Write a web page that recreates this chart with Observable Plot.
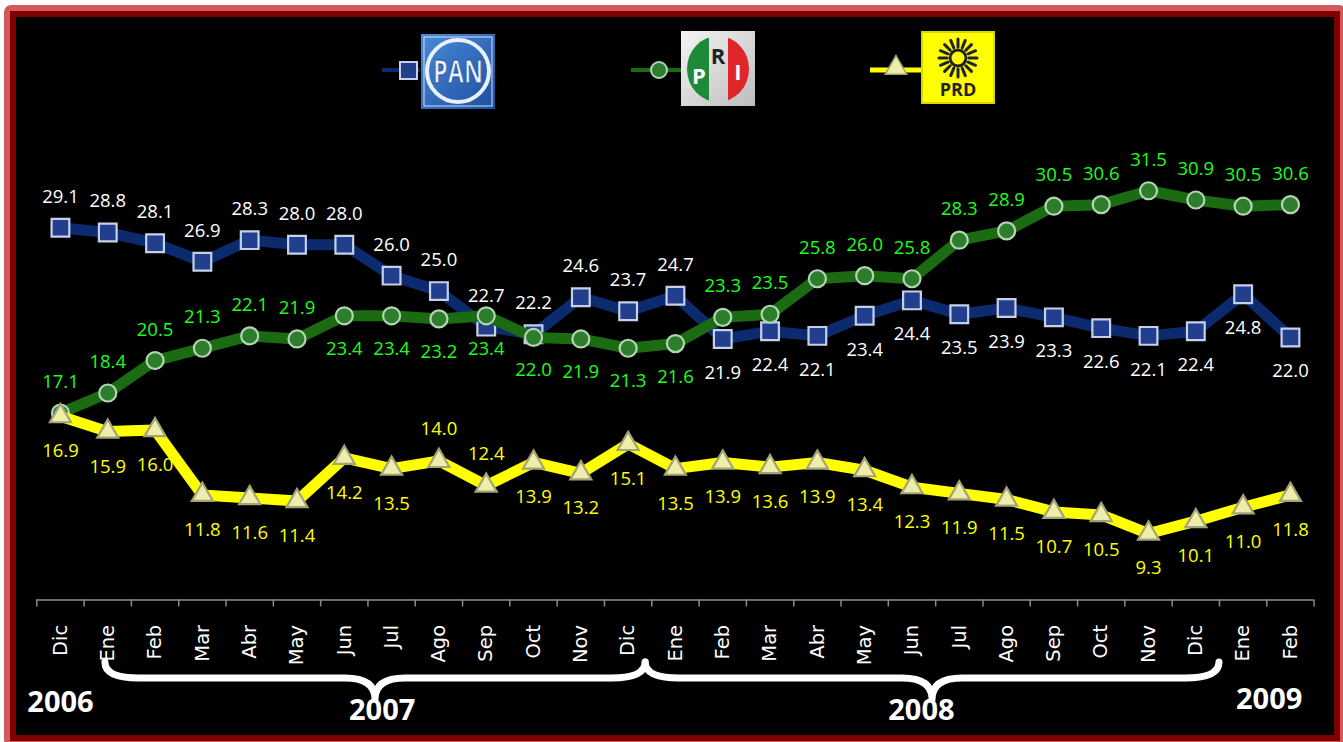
<!DOCTYPE html>
<html><head><meta charset="utf-8">
<script src="https://cdn.jsdelivr.net/npm/d3@7"></script>
<script src="https://cdn.jsdelivr.net/npm/@observablehq/plot@0.6"></script>
<style>
html,body{margin:0;padding:0;background:#fff;width:1343px;height:742px;overflow:hidden;}
#frame{position:absolute;left:4px;top:5px;width:1342px;height:742px;box-sizing:border-box;border:6px solid #d35a5a;border-radius:7px;}
#inner{position:absolute;left:0;top:0;right:0;bottom:0;border:6px solid #800000;background:#000;}
#legend{position:absolute;left:0;top:0;}
#chart{position:absolute;left:0;top:0;}
</style></head>
<body>
<div id="frame"><div id="inner"></div></div>
<svg id="legend" width="1343" height="130"></svg>
<div id="chart"></div>
<script>
// ---- data ----
const months = ["Dic","Ene","Feb","Mar","Abr","May","Jun","Jul","Ago","Sep","Oct","Nov","Dic",
                "Ene","Feb","Mar","Abr","May","Jun","Jul","Ago","Sep","Oct","Nov","Dic","Ene","Feb"];
const pan = [29.1,28.8,28.1,26.9,28.3,28.0,28.0,26.0,25.0,22.7,22.2,24.6,23.7,24.7,
             21.9,22.4,22.1,23.4,24.4,23.5,23.9,23.3,22.6,22.1,22.4,24.8,22.0];
const pri = [17.1,18.4,20.5,21.3,22.1,21.9,23.4,23.4,23.2,23.4,22.0,21.9,21.3,21.6,
             23.3,23.5,25.8,26.0,25.8,28.3,28.9,30.5,30.6,31.5,30.9,30.5,30.6];
const prd = [16.9,15.9,16.0,11.8,11.6,11.4,14.2,13.5,14.0,12.4,13.9,13.2,15.1,13.5,
             13.9,13.6,13.9,13.4,12.3,11.9,11.5,10.7,10.5,9.3,10.1,11.0,11.8];
const yearLabels = ["2006","2007","2008","2009"];
const yearAt = [0, 6.8, 18.2, 25.55];          // month-index where each year label sits
// label side per point: a = above, b = below
const panSide = "aaaaaaaaaaaaaabbbbbbbbbbbbb";
const priSide = "aaaaaabbbbbbbbaaaaaaaaaaaaa";
const prdSide = "bbbbbbbbaabbbbbbbbbbbbbbbbb";

// ---- layout ----
const W = 1343, H = 742;
const idx = d3.range(months.length);
const bounds = d3.range(months.length + 1).map(k => k - 0.5);
const series = [
  {name:"PAN", vals:pan, side:panSide, line:"#0c2a6e", lab:"#ffffff", symbol:"square", r:10, fill:"#223f8e", stroke:"#c6d0ea", up:-31, down:34},
  {name:"PRI", vals:pri, side:priSide, line:"#1b6b12", lab:"#1cff1c", symbol:"circle", r:8.5, fill:"#2c7d2c", stroke:"#b4d4b4", up:-31, down:33},
  {name:"PRD", vals:prd, side:prdSide, line:"#ffff00", lab:"#ffff00", symbol:"triangle", r:7.8, fill:"#eeeeaa", stroke:"#a3a37a", up:-32, down:35}
];
const rowsOf = s => idx.map(i => ({i, v: s.vals[i], side: s.side[i]}));

const marks = [
  Plot.ruleY([5], {stroke:"#8c8c8c", strokeWidth:1.5}),
  Plot.ruleX(bounds, {x:d=>d, y1:5, y2:5, insetBottom:-7, stroke:"#8c8c8c", strokeWidth:1.5}),
  Plot.text(idx, {x:d=>d, text:d=>months[d], frameAnchor:"bottom", rotate:-90, textAnchor:"end",
                  lineAnchor:"middle", dy:25, fill:"#ffffff", fontSize:19.5, fontFamily:"DejaVu Sans"})
];
for (const s of series) {
  const rows = rowsOf(s);
  marks.push(Plot.line(rows, {x:"i", y:"v", stroke:s.line, strokeWidth:11, strokeLinejoin:"miter"}));
  marks.push(Plot.dot(rows, {x:"i", y:"v", symbol:s.symbol, r:s.r, fill:s.fill, stroke:s.stroke, strokeWidth:2.2}));
}
for (const s of series) {
  const rows = rowsOf(s);
  marks.push(Plot.text(rows.filter(d=>d.side==="a"), {x:"i", y:"v", text:d=>d.v.toFixed(1), dy:s.up,
    fill:s.lab, fontSize:18.5, fontFamily:"Open Sans"}));
  marks.push(Plot.text(rows.filter(d=>d.side==="b"), {x:"i", y:"v", text:d=>d.v.toFixed(1), dy:s.down,
    fill:s.lab, fontSize:18.5, fontFamily:"Open Sans"}));
}
// year labels
const yearDy = [112, 120, 120, 109];
yearLabels.forEach((y,k) => {
  marks.push(Plot.text([y], {x:()=>yearAt[k], text:d=>d, frameAnchor:"bottom", dy:yearDy[k],
    fill:"#ffffff", fontSize:29, fontWeight:"bold", fontFamily:"Open Sans"}));
});

const chart = Plot.plot({
  width: W, height: H,
  marginLeft: 36.3, marginRight: 29.4, marginTop: 136.2, marginBottom: 142.6,
  x: {type:"linear", domain:[-0.5, months.length - 0.5], axis:null},
  y: {domain:[5, 35], axis:null},
  style: {background:"transparent", overflow:"visible"},
  marks
});
document.getElementById("chart").appendChild(chart);

// braces under the month labels (from the x scale)
const xs = chart.scale("x");
const braces = [[0.95, 12.37], [12.37, 24.5]];
const svg = d3.select(chart);
const yTip = 662, yBar = 678, yPeak = 699;
for (const [a,b] of braces) {
  const x0 = xs.apply(a), x1 = xs.apply(b), xm = (x0 + x1) / 2, r = 34, rc = 30;
  const p = `M${x0},${yTip} Q${x0},${yBar} ${x0+r},${yBar} L${xm-rc},${yBar} Q${xm},${yBar} ${xm},${yPeak}` +
            ` Q${xm},${yBar} ${xm+rc},${yBar} L${x1-r},${yBar} Q${x1},${yBar} ${x1},${yTip}`;
  svg.append("path").attr("d", p).attr("fill","none").attr("stroke","#fff")
     .attr("stroke-width",7).attr("stroke-linecap","round").attr("stroke-linejoin","round");
}

// ---- legend ----
const lg = d3.select("#legend");
const defs = lg.append("defs");
const gPan = defs.append("linearGradient").attr("id","gpan").attr("x1",0).attr("y1",0).attr("x2",1).attr("y2",1);
gPan.append("stop").attr("offset","0").attr("stop-color","#4a8ad8");
gPan.append("stop").attr("offset","1").attr("stop-color","#1d4f9e");
const gPri = defs.append("linearGradient").attr("id","gpri").attr("x1",0).attr("y1",0).attr("x2",1).attr("y2",1);
gPri.append("stop").attr("offset","0").attr("stop-color","#f4f4f4");
gPri.append("stop").attr("offset","1").attr("stop-color","#bdbdbd");
defs.append("clipPath").attr("id","cpri").append("ellipse").attr("cx",718).attr("cy",69).attr("rx",31).attr("ry",33);

// PAN
lg.append("line").attr("x1",382).attr("x2",420).attr("y1",70).attr("y2",70).attr("stroke","#0c2a6e").attr("stroke-width",4);
lg.append("rect").attr("x",400).attr("y",62).attr("width",17).attr("height",17).attr("fill","#223f8e").attr("stroke","#c6d0ea").attr("stroke-width",2);
lg.append("rect").attr("x",421).attr("y",34).attr("width",74).attr("height",75).attr("fill","url(#gpan)");
lg.append("rect").attr("x",424).attr("y",37).attr("width",68).attr("height",69).attr("fill","none").attr("stroke","#cfe0f6").attr("stroke-width",1);
lg.append("circle").attr("cx",458).attr("cy",71).attr("r",31).attr("fill","none").attr("stroke","#e8f0fb").attr("stroke-width",4);
lg.append("text").attr("x",458).attr("y",83).attr("text-anchor","middle").attr("font-family","Open Sans").attr("font-weight","bold")
  .attr("font-size",33).attr("textLength",50).attr("lengthAdjust","spacingAndGlyphs")
  .attr("fill","#eaf2ff").attr("stroke","#1d4f9e").attr("stroke-width",1).text("PAN");

// PRI
lg.append("line").attr("x1",631).attr("x2",681).attr("y1",70).attr("y2",70).attr("stroke","#1b6b12").attr("stroke-width",4);
lg.append("circle").attr("cx",659).attr("cy",70).attr("r",8).attr("fill","#2c7d2c").attr("stroke","#b4d4b4").attr("stroke-width",2);
lg.append("rect").attr("x",681).attr("y",31).attr("width",74).attr("height",75).attr("fill","url(#gpri)");
const gp = lg.append("g").attr("clip-path","url(#cpri)");
gp.append("rect").attr("x",687).attr("y",30).attr("width",22).attr("height",80).attr("fill","#1d8a3a");
gp.append("rect").attr("x",728).attr("y",30).attr("width",22).attr("height",80).attr("fill","#e0262b");
lg.append("text").attr("x",699).attr("y",84).attr("text-anchor","middle").attr("font-family","Open Sans").attr("font-weight","bold").attr("font-size",22).attr("fill","#ffffff").text("P");
lg.append("text").attr("x",718).attr("y",64).attr("text-anchor","middle").attr("font-family","Open Sans").attr("font-weight","bold").attr("font-size",22).attr("fill","#222").text("R");
lg.append("text").attr("x",738).attr("y",80).attr("text-anchor","middle").attr("font-family","Open Sans").attr("font-weight","bold").attr("font-size",22).attr("fill","#ffffff").text("I");

// PRD
lg.append("line").attr("x1",870).attr("x2",922).attr("y1",70).attr("y2",70).attr("stroke","#ffff00").attr("stroke-width",5);
lg.append("path").attr("d", d3.symbol(d3.symbolTriangle, 200)()).attr("transform","translate(896,68)").attr("fill","#eeeeaa").attr("stroke","#a3a37a").attr("stroke-width",1.5);
lg.append("rect").attr("x",922).attr("y",32).attr("width",72).attr("height",71).attr("fill","#ffff00").attr("stroke","#d6d600").attr("stroke-width",2);
const sun = lg.append("g").attr("transform","translate(958,58)");
d3.range(16).forEach(k => {
  const a = k * Math.PI / 8;
  sun.append("line").attr("x1",Math.cos(a)*11).attr("y1",Math.sin(a)*11).attr("x2",Math.cos(a)*19).attr("y2",Math.sin(a)*19)
     .attr("stroke","#222").attr("stroke-width",3).attr("stroke-linecap","round");
});
sun.append("circle").attr("r",8).attr("fill","#ffff00").attr("stroke","#222").attr("stroke-width",3);
lg.append("text").attr("x",958).attr("y",96).attr("text-anchor","middle").attr("font-family","Open Sans").attr("font-weight","bold")
  .attr("font-size",18).attr("fill","#222").text("PRD");
</script>
</body></html>
